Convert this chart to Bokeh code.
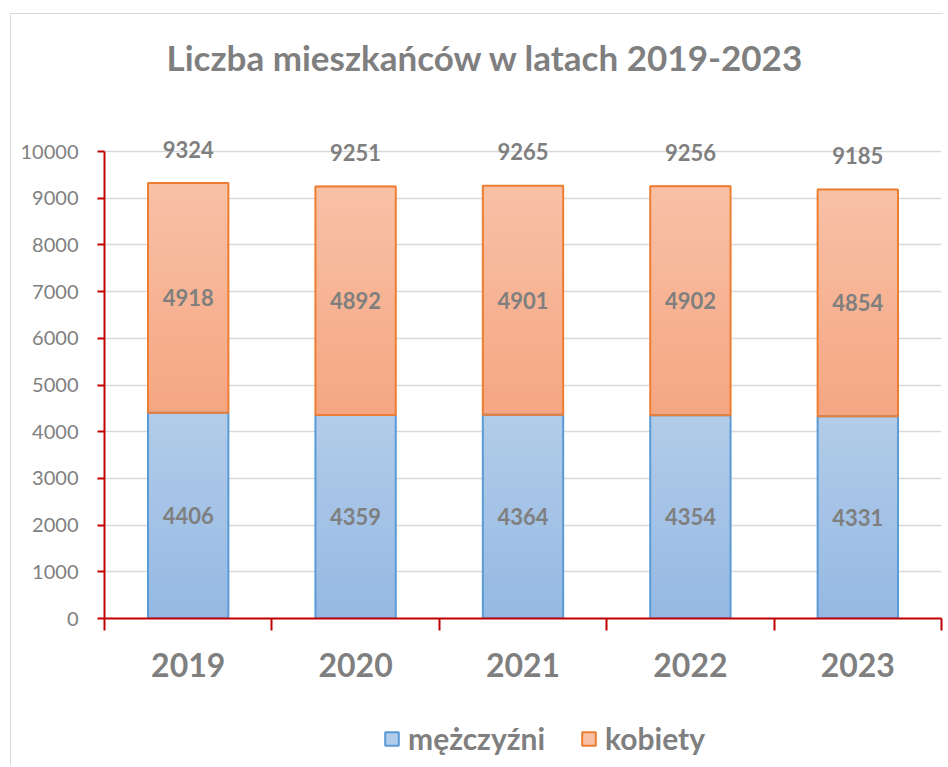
from bokeh.plotting import figure
from bokeh.layouts import column
from bokeh.models import (ColumnDataSource, FixedTicker, Legend, LegendItem, Range1d)
from bokeh.core.properties import value
from bokeh.embed import file_html
from bokeh.resources import INLINE

# ---- data ----
years = ["2019", "2020", "2021", "2022", "2023"]
men = [4406, 4359, 4364, 4354, 4331]
women = [4918, 4892, 4901, 4902, 4854]
totals = [9324, 9251, 9265, 9256, 9185]
y_ticks = [0, 1000, 2000, 3000, 4000, 5000, 6000, 7000, 8000, 9000, 10000]
series_names = ["mężczyźni", "kobiety"]
title_text = "Liczba mieszkańców w latach 2019-2023"

FONT = "Lato"
GRAY = "#7f7f7f"
RED = "#c00000"
BLUE_LINE = "#5b9bd5"
ORANGE_LINE = "#ed7d31"
BLUE_BOTTOM, BLUE_TOP = (149, 185, 227), (178, 204, 233)
ORANGE_BOTTOM, ORANGE_TOP = (245, 166, 130), (248, 193, 167)
BAR_W = 0.48
N_SLICES = 30

# ---- title strip ----
tf = figure(width=932, height=64, output_backend="svg", toolbar_location=None,
            min_border_left=93, min_border_right=2, min_border_top=63,
            min_border_bottom=0, x_axis_location=None, y_axis_location=None,
            outline_line_color=None)
tf.grid.visible = False
tf.title.text = title_text
tf.title.text_font = FONT
tf.title.text_font_style = "bold"
tf.title.text_font_size = "35px"
tf.title.text_color = GRAY
tf.title.align = "left"
tf.title.offset = 62
tf.title.standoff = 0

# ---- main chart ----
p = figure(width=932, height=626, output_backend="svg", toolbar_location=None,
           x_range=Range1d(0, len(years)), y_range=Range1d(0, 10707),
           min_border_left=93, min_border_right=2, min_border_top=40,
           min_border_bottom=86, outline_line_color=None)

xs = [i + 0.5 for i in range(len(years))]


def hexcol(c):
    return "#%02x%02x%02x" % tuple(int(round(v)) for v in c)


def gradient_source(bottoms, heights, cb, ct):
    L, R, B, T, C = [], [], [], [], []
    for x, b, h in zip(xs, bottoms, heights):
        for k in range(N_SLICES):
            f = (k + 0.5) / N_SLICES
            col = tuple(cb[j] + (ct[j] - cb[j]) * f for j in range(3))
            L.append(x - BAR_W / 2)
            R.append(x + BAR_W / 2)
            B.append(b + h * k / N_SLICES)
            T.append(b + h * (k + 1) / N_SLICES + h * 0.004)
            C.append(hexcol(col))
    return ColumnDataSource(dict(left=L, right=R, bottom=B, top=T, color=C))


src = ColumnDataSource(dict(x=xs, men=men, women=women, totals=totals,
                            men_mid=[m / 2 for m in men],
                            women_mid=[m + w / 2 for m, w in zip(men, women)],
                            men_lbl=[str(v) for v in men],
                            women_lbl=[str(v) for v in women],
                            tot_lbl=[str(v) for v in totals]))

# gradient fills
p.quad(left="left", right="right", bottom="bottom", top="top", fill_color="color",
       line_color=None, source=gradient_source([0] * 5, men, BLUE_BOTTOM, BLUE_TOP))
p.quad(left="left", right="right", bottom="bottom", top="top", fill_color="color",
       line_color=None, source=gradient_source(men, women, ORANGE_BOTTOM, ORANGE_TOP))

# outlines on top
p.vbar(x="x", bottom=0, top="men", width=BAR_W, source=src,
       fill_color=None, line_color=BLUE_LINE, line_width=2)
p.vbar(x="x", bottom="men", top="totals", width=BAR_W, source=src,
       fill_color=None, line_color=ORANGE_LINE, line_width=2)

# data labels
lbl_kw = dict(text_align="center", text_baseline="middle", text_color=GRAY,
              text_font=value(FONT), text_font_style="bold", text_font_size="22px")
p.text(x="x", y="men_mid", text="men_lbl", source=src, **lbl_kw)
p.text(x="x", y="women_mid", text="women_lbl", source=src, **lbl_kw)
p.text(x="x", y="totals", text="tot_lbl", source=src, y_offset=-34, **lbl_kw)

# grid
p.xgrid.visible = False
p.ygrid.ticker = FixedTicker(ticks=y_ticks)
p.ygrid.grid_line_color = "#d9d9d9"
p.ygrid.grid_line_width = 1.5

# y axis
ya = p.yaxis[0]
ya.ticker = FixedTicker(ticks=y_ticks)
ya.bounds = (0, 10000)
ya.axis_line_color = RED
ya.axis_line_width = 2
ya.major_tick_line_color = RED
ya.major_tick_line_width = 2
ya.major_tick_out = 7
ya.major_tick_in = 0
ya.minor_tick_line_color = None
ya.major_label_text_font = FONT
ya.major_label_text_font_size = "20px"
ya.major_label_text_color = GRAY
ya.major_label_standoff = 19

# x axis
xa = p.xaxis[0]
xa.ticker = FixedTicker(ticks=xs, minor_ticks=list(range(len(years) + 1)))
xa.major_label_overrides = {x: y for x, y in zip(xs, years)}
xa.axis_line_color = RED
xa.axis_line_width = 2
xa.major_tick_line_color = None
xa.major_tick_out = 0
xa.major_tick_in = 0
xa.minor_tick_line_color = RED
xa.minor_tick_line_width = 2
xa.minor_tick_out = 12
xa.minor_tick_in = 0
xa.major_label_text_font = FONT
xa.major_label_text_font_style = "bold"
xa.major_label_text_font_size = "32px"
xa.major_label_text_color = GRAY
xa.major_label_standoff = 22

# ---- legend strip (bars muted to full transparency; only the legend shows) ----
lf = figure(width=932, height=61, output_backend="svg", toolbar_location=None,
            x_range=Range1d(0, len(years)), y_range=Range1d(20000, 30000),
            min_border_left=0, min_border_right=0, min_border_top=0,
            min_border_bottom=0, x_axis_location=None, y_axis_location=None,
            outline_line_color=None)
lf.grid.visible = False
r_men = lf.vbar(x="x", bottom=0, top="men", width=BAR_W, source=src,
                fill_color=hexcol(BLUE_TOP), line_color=BLUE_LINE, line_width=2,
                muted_alpha=0)
r_women = lf.vbar(x="x", bottom="men", top="totals", width=BAR_W, source=src,
                  fill_color=hexcol(ORANGE_TOP), line_color=ORANGE_LINE, line_width=2,
                  muted_alpha=0)
r_men.muted = True
r_women.muted = True
legend = Legend(items=[LegendItem(label=series_names[0], renderers=[r_men]),
                       LegendItem(label=series_names[1], renderers=[r_women])],
                orientation="horizontal", location=(279, 9),
                glyph_width=17, glyph_height=17, label_standoff=8, spacing=35,
                label_text_font=FONT, label_text_font_style="bold",
                label_text_font_size="30px", label_text_color=GRAY,
                border_line_color=None, background_fill_alpha=0,
                padding=0, margin=0, click_policy="none")
lf.add_layout(legend)

layout = column(tf, p, lf, spacing=0)
layout.styles = {"margin-left": "10px", "margin-top": "13px",
                 "border-left": "1px solid #d9d9d9", "border-top": "1px solid #d9d9d9"}

open("out.html", "w").write(file_html(layout, INLINE))
